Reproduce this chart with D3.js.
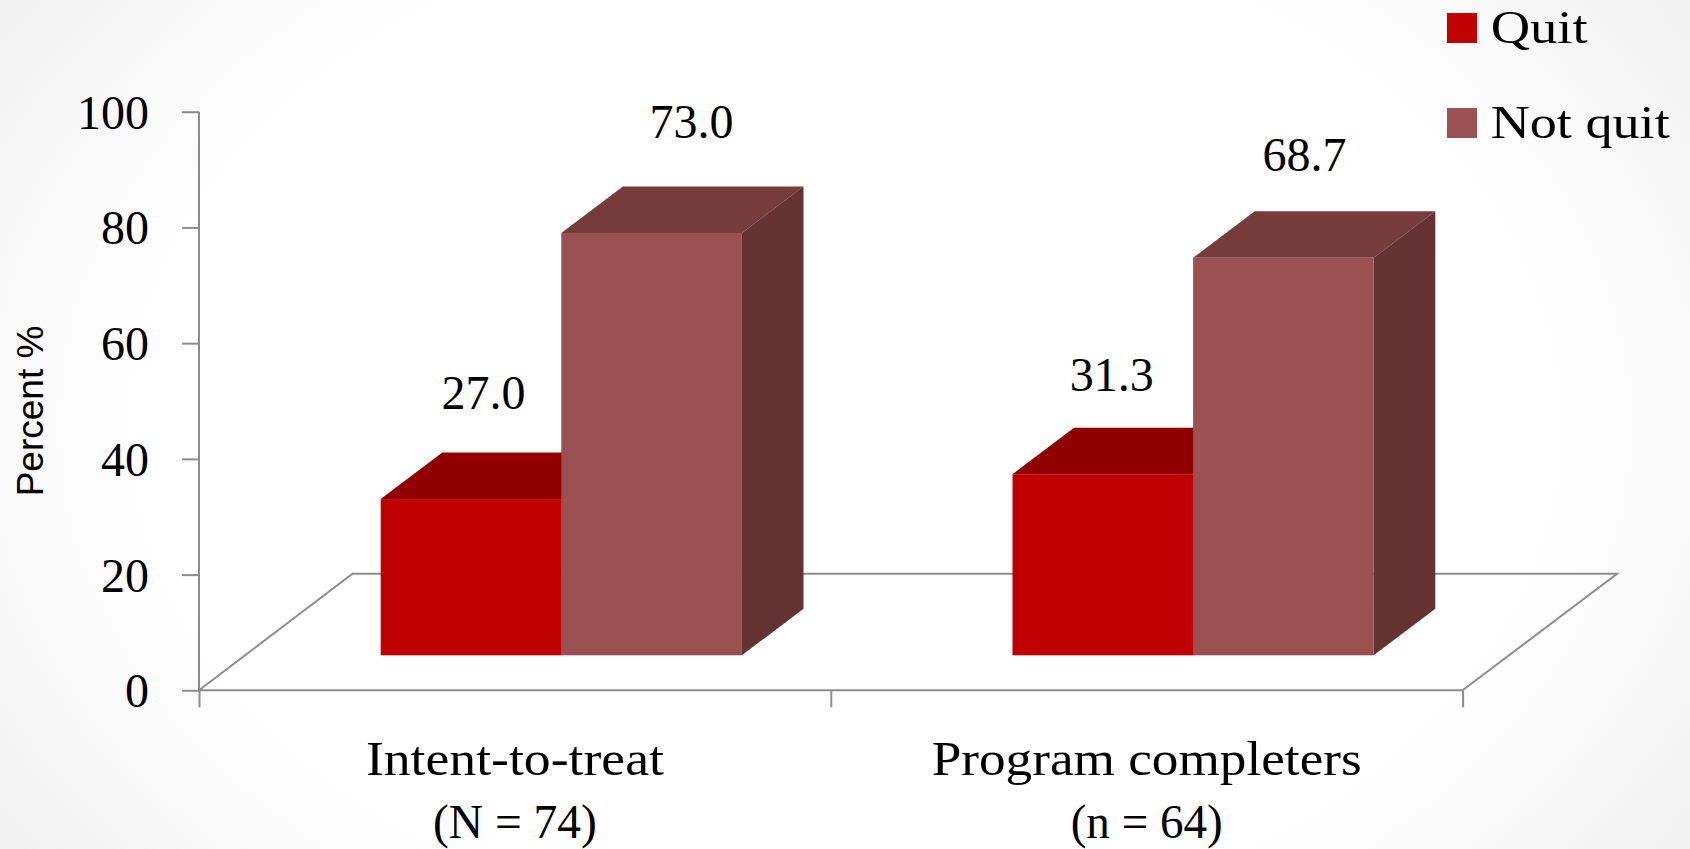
<!DOCTYPE html>
<html>
<head>
<meta charset="utf-8">
<script src="https://d3js.org/d3.v7.min.js"></script>
<style>
html,body{margin:0;padding:0;width:1690px;height:849px;overflow:hidden;
background:radial-gradient(ellipse 1000px 720px at 50% 50%,#ffffff 70%,#f0f0f0 105%);}
svg{display:block;}
text{font-family:"Liberation Serif",serif;fill:#000;}
</style>
</head>
<body>
<svg id="chart" width="1690" height="849"></svg>
<script>
// Data
const categories = ["Intent-to-treat", "Program completers"];
const categorySubs = ["(N = 74)", "(n = 64)"];
const seriesNames = ["Quit", "Not quit"];
const quitValues = [27.0, 31.3];
const notQuitValues = [73.0, 68.7];
const yTicks = [0, 20, 40, 60, 80, 100];

// Styles and layout
const frontColors = ["#C00000", "#9B5151"];
const topColors = ["#900000", "#763C3C"];
const sideColors = ["#900000", "#653232"];
const axisColor = "#8c8c8c";
const plot = {left:199, right:1462.6, top:111.7, bottom:690.3};
const floorDepth = {dx:153.5, dy:116.5};
const barDepth = {dx:61.6, dy:46.5};
const frontLift = 35;
const labelNudge = [[12.6, 44],[9, 36.5]];
const labelNudgeNq = [[40, 48],[21, 40]];

const svg = d3.select("#chart");
const y = d3.scaleLinear().domain([0,100]).range([plot.bottom, plot.top]);
const x0 = d3.scaleBand().domain(categories).range([plot.left, plot.right]);
const x1 = d3.scaleBand().domain(seriesNames).range([181.7, 181.7+361.2]);
const edges = d3.scaleLinear().domain([0,2]).range([plot.left, plot.right]);

// Floor
const floorLine = d3.line();
svg.append("path")
  .attr("d", floorLine([
    [plot.left, plot.bottom],
    [plot.left+floorDepth.dx, plot.bottom-floorDepth.dy],
    [plot.right+floorDepth.dx+1, plot.bottom-floorDepth.dy],
    [plot.right, plot.bottom]
  ]))
  .attr("fill","#ffffff").attr("fill-opacity",0.35)
  .attr("stroke",axisColor).attr("stroke-width",2);

// Axes
const yAxis = svg.append("g").attr("transform",`translate(${plot.left},0)`)
  .call(d3.axisLeft(y).tickValues(yTicks).tickSize(17).tickPadding(33));
yAxis.selectAll("text").attr("font-size",48).attr("dy",16.5)
  .style("font-family","'Liberation Serif',serif");
const xAxis = svg.append("g").attr("transform",`translate(0,${plot.bottom})`)
  .call(d3.axisBottom(edges).tickValues([0,1,2]).tickSize(17).tickFormat(""));
[yAxis,xAxis].forEach(a=>{
  a.selectAll(".domain").attr("stroke",axisColor).attr("stroke-width",2);
  a.selectAll(".tick line").attr("stroke",axisColor).attr("stroke-width",2);
});
yAxis.select(".domain").attr("d",`M0,${plot.top}V${plot.bottom}`);
xAxis.select(".domain").attr("d",`M${plot.left},0H${plot.right}`);

// Bars
const rows = [];
seriesNames.forEach((s,si)=>{
  const vals = si===0 ? quitValues : notQuitValues;
  categories.forEach((c,ci)=>rows.push({s,si,c,ci,v:vals[ci]}));
});
const bars = svg.append("g").selectAll("g").data(rows).join("g");
const poly = pts => d3.line()(pts)+"Z";
const geom = d=>{
  const l = x0(d.c)+x1(d.s), r = l+x1.bandwidth();
  const t = y(d.v)-frontLift, b = y(0)-frontLift;
  return {l,r,t,b};
};
bars.append("path").attr("fill",d=>topColors[d.si]).attr("d",d=>{
  const g=geom(d);
  return poly([[g.l,g.t],[g.l+barDepth.dx,g.t-barDepth.dy],[g.r+barDepth.dx,g.t-barDepth.dy],[g.r,g.t]]);
});
bars.append("path").attr("fill",d=>sideColors[d.si]).attr("d",d=>{
  const g=geom(d);
  return poly([[g.r,g.t],[g.r+barDepth.dx,g.t-barDepth.dy],[g.r+barDepth.dx,g.b-barDepth.dy],[g.r,g.b]]);
});
bars.append("rect").attr("fill",d=>frontColors[d.si])
  .attr("x",d=>geom(d).l).attr("y",d=>geom(d).t)
  .attr("width",x1.bandwidth()).attr("height",d=>geom(d).b-geom(d).t);

// Value labels
svg.append("g").selectAll("text").data(rows).join("text")
  .attr("text-anchor","middle").attr("font-size",48)
  .attr("x",d=>{
    const n = d.si===0?labelNudge[d.ci]:labelNudgeNq[d.ci];
    return geom(d).l+x1.bandwidth()/2+n[0];
  })
  .attr("y",d=>{
    const n = d.si===0?labelNudge[d.ci]:labelNudgeNq[d.ci];
    return geom(d).t-barDepth.dy-n[1];
  })
  .text(d=>d.v.toFixed(1));

// Category labels
const catWidths = [298,430], subWidths = [164,152];
categories.forEach((c,i)=>{
  const cx = x0(c)+x0.bandwidth()/2;
  svg.append("text").attr("x",cx).attr("y",775).attr("text-anchor","middle")
    .attr("font-size",48).attr("textLength",catWidths[i]).attr("lengthAdjust","spacingAndGlyphs").text(c);
  svg.append("text").attr("x",cx).attr("y",838).attr("text-anchor","middle")
    .attr("font-size",48).attr("textLength",subWidths[i]).attr("lengthAdjust","spacingAndGlyphs").text(categorySubs[i]);
});

// Y title
svg.append("text").attr("transform","translate(43,411) rotate(-90)").attr("text-anchor","middle")
  .attr("font-size",37).style("font-family","'Liberation Sans',sans-serif").text("Percent %");

// Legend
const legY = d3.scalePoint().domain(seriesNames).range([13,108]);
const legWidths = [97,179];
const leg = svg.append("g").selectAll("g").data(seriesNames).join("g")
  .attr("transform",d=>`translate(1447,${legY(d)})`);
leg.append("rect").attr("width",30).attr("height",30).attr("fill",(d,i)=>frontColors[i]);
leg.append("text").attr("x",43.7).attr("y",29.5).attr("font-size",47)
  .attr("textLength",(d,i)=>legWidths[i]).attr("lengthAdjust","spacingAndGlyphs").text(d=>d);
</script>
</body>
</html>
